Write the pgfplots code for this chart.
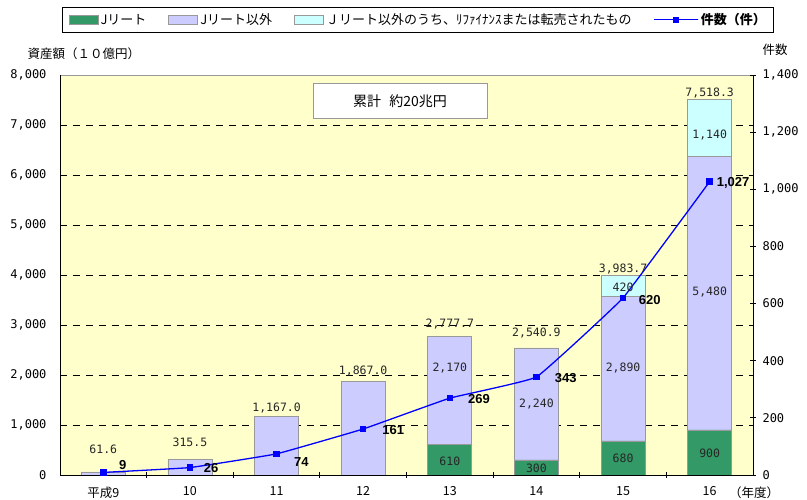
\documentclass[border=0pt]{standalone}
\usepackage{fontspec}
\setmainfont{Liberation Sans}
\newfontfamily\cjk{Noto Sans CJK JP}
\newfontfamily\mono{DejaVu Sans Mono}
\usepackage{pgfplots}
\pgfplotsset{compat=1.18}

\definecolor{jreit}{HTML}{339966}
\definecolor{other}{HTML}{CCCCFF}
\definecolor{refi}{HTML}{CCFFFF}
\definecolor{bgyellow}{HTML}{FFFFCC}
\definecolor{bargray}{HTML}{999999}

\pgfplotsset{
  base/.style={scale only axis, width=693pt, height=400pt,
    xmin=-0.5, xmax=7.5},
  barlegend/.style={legend image code/.code={%
    \draw[##1] (0pt,-4.5pt) rectangle (29pt,4.5pt);}},
  countlegend/.style={legend image code/.code={%
    \draw[##1,mark=none] (0pt,0pt) -- (32pt,0pt);
    \draw[##1] plot coordinates {(16pt,0pt)};}},
}

\begin{document}
\begin{tikzpicture}
% bars, left axis
\begin{axis}[base,
    ybar stacked, bar width=44pt,
    ymin=0, ymax=8000,
    ytick={1000,2000,...,7000},
    extra y ticks={0,8000}, extra y tick style={grid=none},
    scaled y ticks=false,
    ymajorgrids,
    grid style={black, dash pattern=on 7pt off 6pt, line width=0.6pt},
    axis x line*=bottom, axis y line*=left,
    axis line style={black, line width=0.9pt},
    axis background/.style={fill=bgyellow, draw=bargray, line width=0.8pt},
    ytick style={draw=none},
    yticklabel style={font=\mono\fontsize{12}{14}\selectfont, xshift=-10pt},
    /pgf/number format/assume math mode=true,
    /pgf/number format/1000 sep={,},
    xtick={0,...,7},
    xticklabels={平成9,10,11,12,13,14,15,16},
    xticklabel style={font=\cjk\fontsize{12.5}{14}\selectfont, yshift=-8pt},
    major x tick style={draw=none},
    minor xtick={0.5,1.5,...,6.5},
    minor x tick style={black, line width=0.8pt, yshift=-3pt},
    minor tick length=6pt,
    legend columns=4,
    legend cell align=left,
    legend style={at={(0.517,1.17)}, anchor=north, draw=black, line width=0.8pt,
      font=\cjk\fontsize{13}{15}\selectfont, inner xsep=6pt, inner ysep=4pt,
      /tikz/every even column/.append style={column sep=20pt}},
]
\addplot[barlegend, fill=jreit, draw=bargray, line width=0.8pt]
  coordinates {(0,0) (1,0) (2,0) (3,0) (4,610) (5,300) (6,680) (7,900)};
\addlegendentry{Jリート}
\addplot[barlegend, fill=other, draw=bargray, line width=0.8pt]
  coordinates {(0,61.6) (1,315.5) (2,1167.0) (3,1867.0) (4,2167.7) (5,2240.9) (6,2883.7) (7,5478.3)};
\addlegendentry{Jリート以外}
\addplot[barlegend, fill=refi, draw=bargray, line width=0.8pt]
  coordinates {(0,0) (1,0) (2,0) (3,0) (4,0) (5,0) (6,420) (7,1140)};
\addlegendentry{Ｊリート以外のうち、ﾘﾌｧｲﾅﾝｽまたは転売されたもの}
\addlegendimage{countlegend, blue, line width=1.3pt, mark=square*, mark size=2.6pt}
\addlegendentry{\bfseries 件数（件）}
\end{axis}

% count line, right axis
\begin{axis}[base,
    ymin=0, ymax=1400,
    ytick={0,200,...,1400},
    axis y line*=right, axis x line=none,
    axis line style={black, line width=0.9pt},
    ytick style={black, line width=0.8pt, xshift=3pt},
    major tick length=6pt,
    yticklabel style={font=\mono\fontsize{12}{14}\selectfont, xshift=6pt},
    /pgf/number format/assume math mode=true,
    /pgf/number format/1000 sep={,},
    clip=false,
]
\addplot[blue, line width=1.3pt, smooth, tension=0.15,
    mark=square*, mark size=2.6pt, mark options={solid}]
  coordinates {(0,9) (1,26) (2,74) (3,161) (4,269) (5,343) (6,620) (7,1027)};
\addplot[draw=none, mark=none, nodes near coords, point meta=explicit symbolic,
    every node near coord/.append style={anchor=west, inner sep=0pt,
      font=\bfseries\fontsize{13}{15}\selectfont}]
  table[meta=lab] {
x y lab
0.18 35 9
1.16 26 26
2.20 45 74
3.22 157 161
4.21 266 269
5.21 340 343
6.18 612 620
7.08 1022 1,027
};
\end{axis}

% value labels, left scale
\begin{axis}[base, ymin=0, ymax=8000, hide axis, clip=false]
\addplot[draw=none, mark=none, nodes near coords, point meta=explicit symbolic,
    every node near coord/.append style={anchor=center, inner sep=0pt,
      text=black!85, font=\mono\fontsize{11.5}{13}\selectfont}]
  table[meta=lab] {
x y lab
0 520 61.6
1 660 315.5
2 1340 1,167.0
3 2075 1,867.0
4 3020 2,777.7
5 2840 2,540.9
6 4120 3,983.7
7 7640 7,518.3
4 280 610
4 2140 2,170
5 140 300
5 1420 2,240
6 340 680
6 2140 2,890
6 3760 420
7 440 900
7 3660 5,480
7 6800 1,140
};
\node[draw=bargray, fill=white, line width=0.8pt, minimum width=174pt,
  minimum height=35pt, font=\cjk\fontsize{14}{16}\selectfont]
  at (rel axis cs:0.4906,0.934) {累計\hspace{0.6em}約20兆円};
\end{axis}

\node[anchor=west, font=\cjk\fontsize{12.5}{14}\selectfont] at (-36pt,421pt) {資産額（１０億円）};
\node[font=\cjk\fontsize{12.5}{14}\selectfont] at (715pt,425pt) {件数};
\node[font=\cjk\fontsize{12.5}{14}\selectfont] at (694pt,-18pt) {（年度）};

\pgfresetboundingbox
\path (-60pt,-25pt) rectangle (747pt,475pt);
\end{tikzpicture}
\end{document}
